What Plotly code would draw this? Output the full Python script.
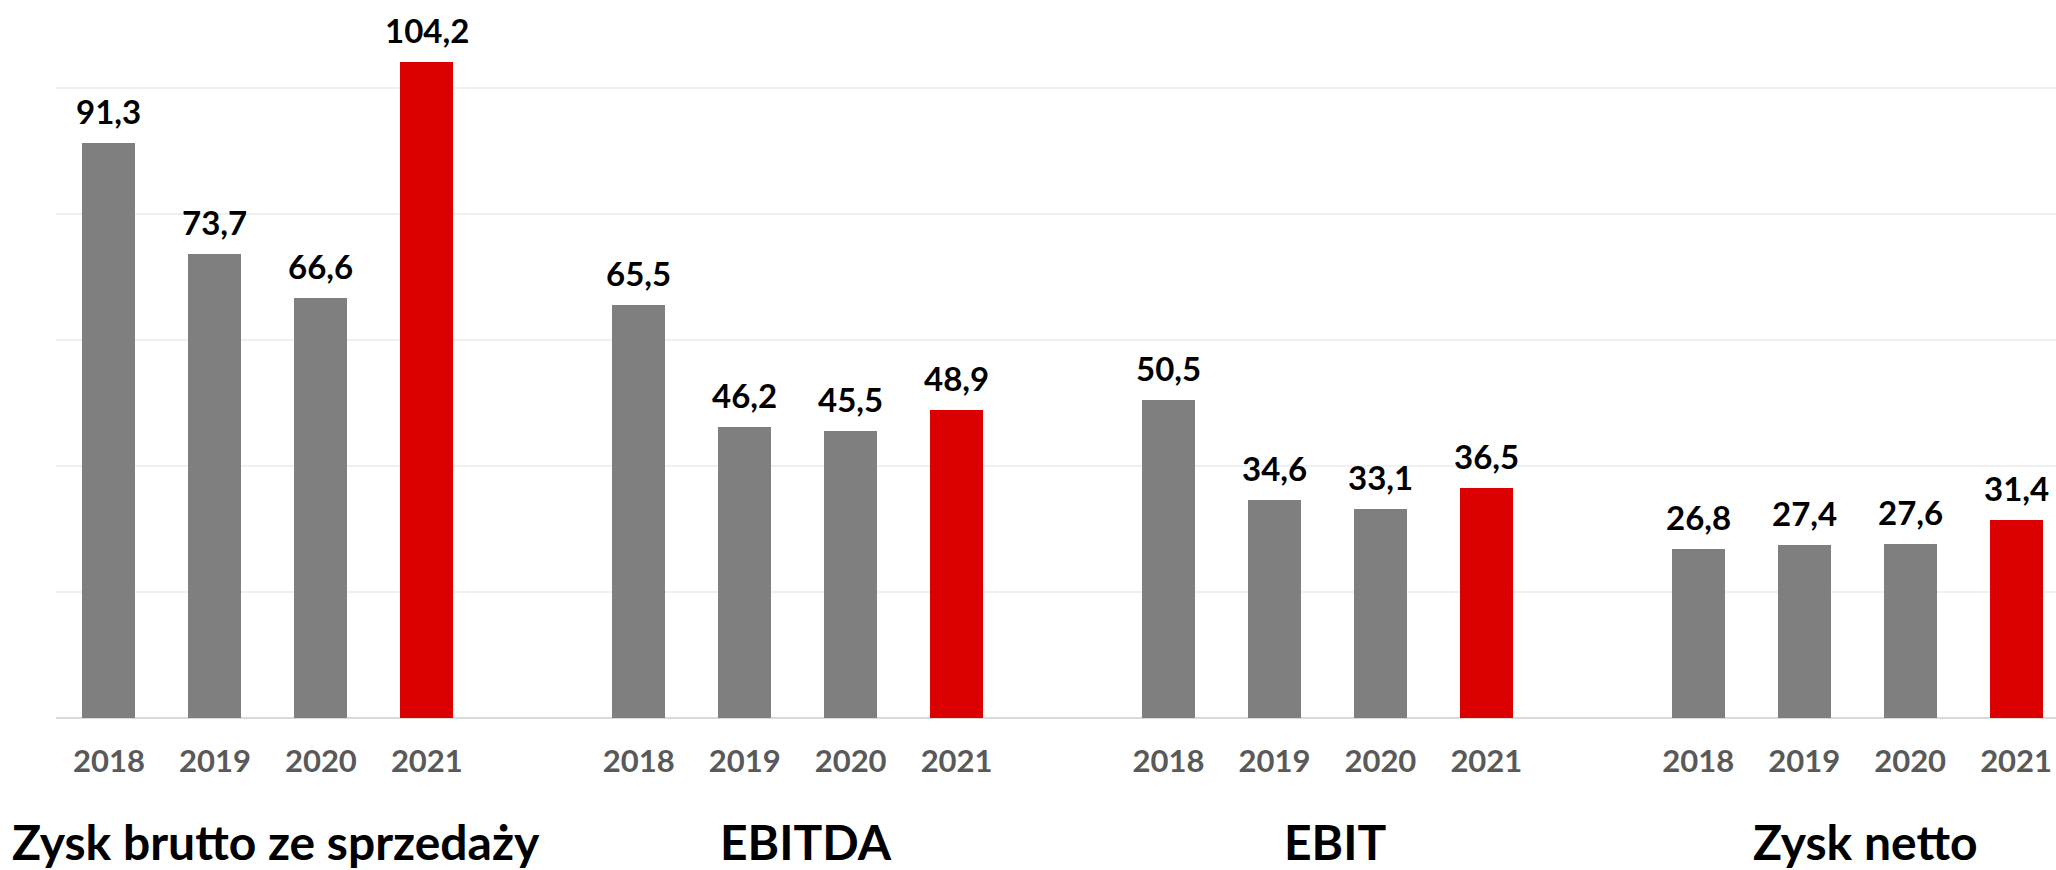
import plotly.graph_objects as go

groups = ["Zysk brutto ze sprzedaży", "EBITDA", "EBIT", "Zysk netto"]
years = ["2018", "2019", "2020", "2021"]
zysk_brutto = [91.3, 73.7, 66.6, 104.2]
ebitda = [65.5, 46.2, 45.5, 48.9]
ebit = [50.5, 34.6, 33.1, 36.5]
zysk_netto = [26.8, 27.4, 27.6, 31.4]
series = [zysk_brutto, ebitda, ebit, zysk_netto]

GRAY = "#7f7f7f"
RED = "#da0000"
FONT = "Lato"

xs, ys, cols, tickvals, ticktext = [], [], [], [], []
for gi, vals in enumerate(series):
    for yi, v in enumerate(vals):
        pos = gi * 5 + yi
        xs.append(pos)
        ys.append(v)
        cols.append(RED if years[yi] == "2021" else GRAY)
        tickvals.append(pos)
        ticktext.append(years[yi])

fig = go.Figure()
fig.add_trace(go.Bar(x=xs, y=ys, marker=dict(color=cols, line=dict(width=0)),
                     width=0.5, hoverinfo="skip"))

annotations = []
for x, y in zip(xs, ys):
    annotations.append(dict(x=x, y=y, xref="x", yref="y",
                            text="<b>" + f"{y:.1f}".replace(".", ",") + "</b>",
                            showarrow=False, yanchor="bottom", yshift=10,
                            font=dict(family=FONT, size=33, color="#000000")))
for gi, g in enumerate(groups):
    annotations.append(dict(x=gi * 5 + 1.5, y=-0.1725, xref="x", yref="paper",
                            text="<b>" + g + "</b>", showarrow=False,
                            xshift=8, yanchor="middle",
                            font=dict(family=FONT, size=48, color="#000000")))

slot_px = 105.95
plot_w = 2000
fig.update_layout(
    width=2056, height=870,
    margin=dict(l=56, r=0, t=0, b=152),
    plot_bgcolor="white", paper_bgcolor="white",
    showlegend=False,
    bargap=0,
    annotations=annotations,
    xaxis=dict(range=[-0.5, -0.5 + plot_w / slot_px], tickmode="array",
               tickvals=tickvals, ticktext=["<b>" + t + "</b>" for t in ticktext],
               tickfont=dict(family=FONT, size=31, color="#595959"),
               showgrid=False, zeroline=False, showline=False,
               ticks="", ticklabelstandoff=22),
    yaxis=dict(range=[0, 718 / 6.3], tickvals=[20, 40, 60, 80, 100],
               showticklabels=False, showgrid=True, gridcolor="#f0f0f0",
               gridwidth=2, zeroline=True, zerolinecolor="#d9d9d9",
               zerolinewidth=2, showline=False),
)

fig.write_html("out.html", config={"displayModeBar": False},
               post_script="document.body.style.margin='0';document.body.style.overflow='hidden';")
